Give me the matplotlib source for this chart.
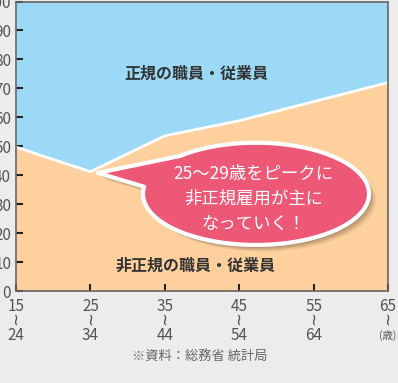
import numpy as np
import matplotlib.pyplot as plt
from matplotlib.patches import Polygon

plt.rcParams['font.family'] = ['Noto Sans CJK JP', 'DejaVu Sans']

# data: share of non-regular employment by age group (%)
ages = [15, 25, 35, 45, 55, 65]
age_end = ["24", "34", "44", "54", "64", "(歳)"]
nonregular = [49.7, 41.2, 53.6, 58.8, 65.4, 72.0]
yticks = [0, 10, 20, 30, 40, 50, 60, 70, 80, 90, 100]

bg = "#ececec"
blue = "#9bd9f6"
orange = "#fdd09d"
pink = "#ee5877"
dark = "#333333"
gray = "#555555"

fig = plt.figure(figsize=(3.98, 3.83), dpi=100, facecolor=bg)
ax = fig.add_axes([16 / 398, 92 / 383, 372 / 398, 289.5 / 383])

ax.fill_between(ages, nonregular, 100, color=blue, lw=0)
ax.fill_between(ages, 0, nonregular, color=orange, lw=0)
ax.plot(ages, nonregular, color="white", lw=2)

ax.set_xlim(15, 65)
ax.set_ylim(0, 100)
ax.set_yticks(yticks)
ax.set_yticklabels([str(v) for v in yticks])
ax.set_xticks(ages)
ax.set_xticklabels([str(a) for a in ages])
ax.tick_params(axis="both", direction="in", length=5, width=1.5, color="#222222",
               labelsize=11, labelcolor=gray)
ax.tick_params(axis="y", pad=3.5)
ax.tick_params(axis="x", pad=5)
for s in ax.spines.values():
    s.set_color("#666666")
    s.set_linewidth(1.2)

# second and third line of the x labels
xt = ax.get_xaxis_transform()
for a, e in zip(ages, age_end):
    ax.annotate("~", (a, 0), xycoords=xt, xytext=(0, -19.5), textcoords="offset points",
                rotation=90, ha="center", va="center", fontsize=12, color=gray,
                family="DejaVu Sans", annotation_clip=False)
    fs = 7.5 if e.startswith("(") else 11
    ax.annotate(e, (a, 0), xycoords=xt, xytext=(0, -32), textcoords="offset points",
                ha="center", va="center", fontsize=fs, color=gray, annotation_clip=False)

ax.text(39.2, 75, "正規の職員・従業員", ha="center", va="center", fontsize=11.5,
        fontweight="bold", color=dark)
ax.text(39.2, 8.8, "非正規の職員・従業員", ha="center", va="center", fontsize=11.5,
        fontweight="bold", color=dark)

# speech bubble
cx, cy, a_, b_ = 47.26, 33.56, 15.19, 17.65
tip = (26.0, 40.8)
t = np.radians(np.linspace(172, 132 + 360, 200))
pts = np.column_stack([cx + a_ * np.cos(t), cy + b_ * np.sin(t)])
pts = np.vstack([pts, tip])
for off, al in [((0.9, -2.2), 0.08), ((0.6, -1.6), 0.12), ((0.3, -1.0), 0.12)]:
    ax.add_patch(Polygon(pts + np.array(off), closed=True, facecolor="#000000",
                         alpha=al, lw=0, zorder=4))
ax.add_patch(Polygon(pts, closed=True, facecolor=pink, edgecolor="white", lw=3,
                     joinstyle="round", zorder=5))
ax.text(cx - 0.3, cy - 1.8, "25～29歳をピークに\n非正規雇用が主に\nなっていく！",
        ha="center", va="center", fontsize=12.5, color="white", linespacing=1.5, zorder=6)

fig.text(200 / 398, 1 - 356 / 383, "※資料：総務省 統計局", ha="center", va="center",
         fontsize=9.5, color="#666666")

fig.savefig("out.png", dpi=100, facecolor=bg)
